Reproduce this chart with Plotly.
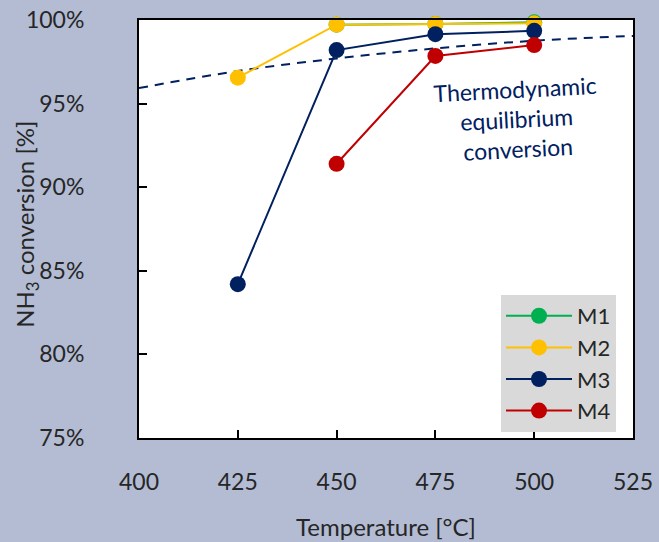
import plotly.graph_objects as go

temps = [425, 450, 475, 500]
m1 = [None, 99.72, 99.76, 99.86]
m2 = [96.55, 99.72, 99.76, 99.8]
m3 = [84.2, 98.2, 99.15, 99.35]
m4 = [None, 91.4, 97.85, 98.5]

eq_t = [400, 425, 450, 475, 500, 525]
eq_v = [95.93, 96.95, 97.7, 98.3, 98.76, 99.05]

series = [("M1", m1, "#00b050"), ("M2", m2, "#ffc000"),
          ("M3", m3, "#002060"), ("M4", m4, "#c00000")]

FONT = "Lato"
fig = go.Figure()
fig.add_trace(go.Scatter(x=eq_t, y=eq_v, mode="lines", showlegend=False,
                         line=dict(color="#002060", width=2, dash="9px,7px", shape="spline"),
                         cliponaxis=False, hoverinfo="skip"))
for name, vals, col in series:
    fig.add_trace(go.Scatter(x=temps, y=vals, name=name, mode="lines+markers",
                             line=dict(color=col, width=2),
                             marker=dict(color=col, size=16),
                             cliponaxis=False, connectgaps=False))

fig.add_annotation(x=495.6, y=94.1, xref="x", yref="y",
                   text="Thermodynamic<br>equilibrium<br>conversion",
                   showarrow=False, textangle=-3,
                   font=dict(family=FONT, size=23, color="#002060"))

fig.add_annotation(x=-0.2267, y=0.51, xref="paper", yref="paper",
                   text="NH<sub>3</sub> conversion [%]", showarrow=False,
                   textangle=-90, xanchor="center", yanchor="middle",
                   font=dict(family=FONT, size=24, color="#262626"))

fig.update_layout(
    width=659, height=542,
    margin=dict(l=139, r=26, t=20, b=104, autoexpand=False),
    paper_bgcolor="#b3bcd3",
    plot_bgcolor="white",
    font=dict(family=FONT, size=23, color="#262626"),
    legend=dict(x=0.9656, y=0.0144, xanchor="right", yanchor="bottom",
                bgcolor="#d9d9d9", font=dict(family=FONT, size=22, color="#262626"),
                tracegroupgap=0, itemwidth=66),
    xaxis=dict(range=[400, 525], tickvals=[400, 425, 450, 475, 500, 525],
               ticks="inside", ticklen=8, tickcolor="black", tickwidth=1.5,
               showline=True, linecolor="black", linewidth=2, mirror=True,
               showgrid=False, zeroline=False, ticklabelstandoff=22, automargin=False,
               title=dict(text="Temperature [°C]", font=dict(size=24), standoff=26)),
    yaxis=dict(range=[75, 100], tickvals=[75, 80, 85, 90, 95, 100],
               ticktext=["75%", "80%", "85%", "90%", "95%", "100%"],
               ticks="inside", ticklen=8, tickcolor="black", tickwidth=1.5,
               showline=True, linecolor="black", linewidth=2, mirror=True,
               showgrid=False, zeroline=False, ticklabelstandoff=48, automargin=False),
)

fig.write_html("out.html")
